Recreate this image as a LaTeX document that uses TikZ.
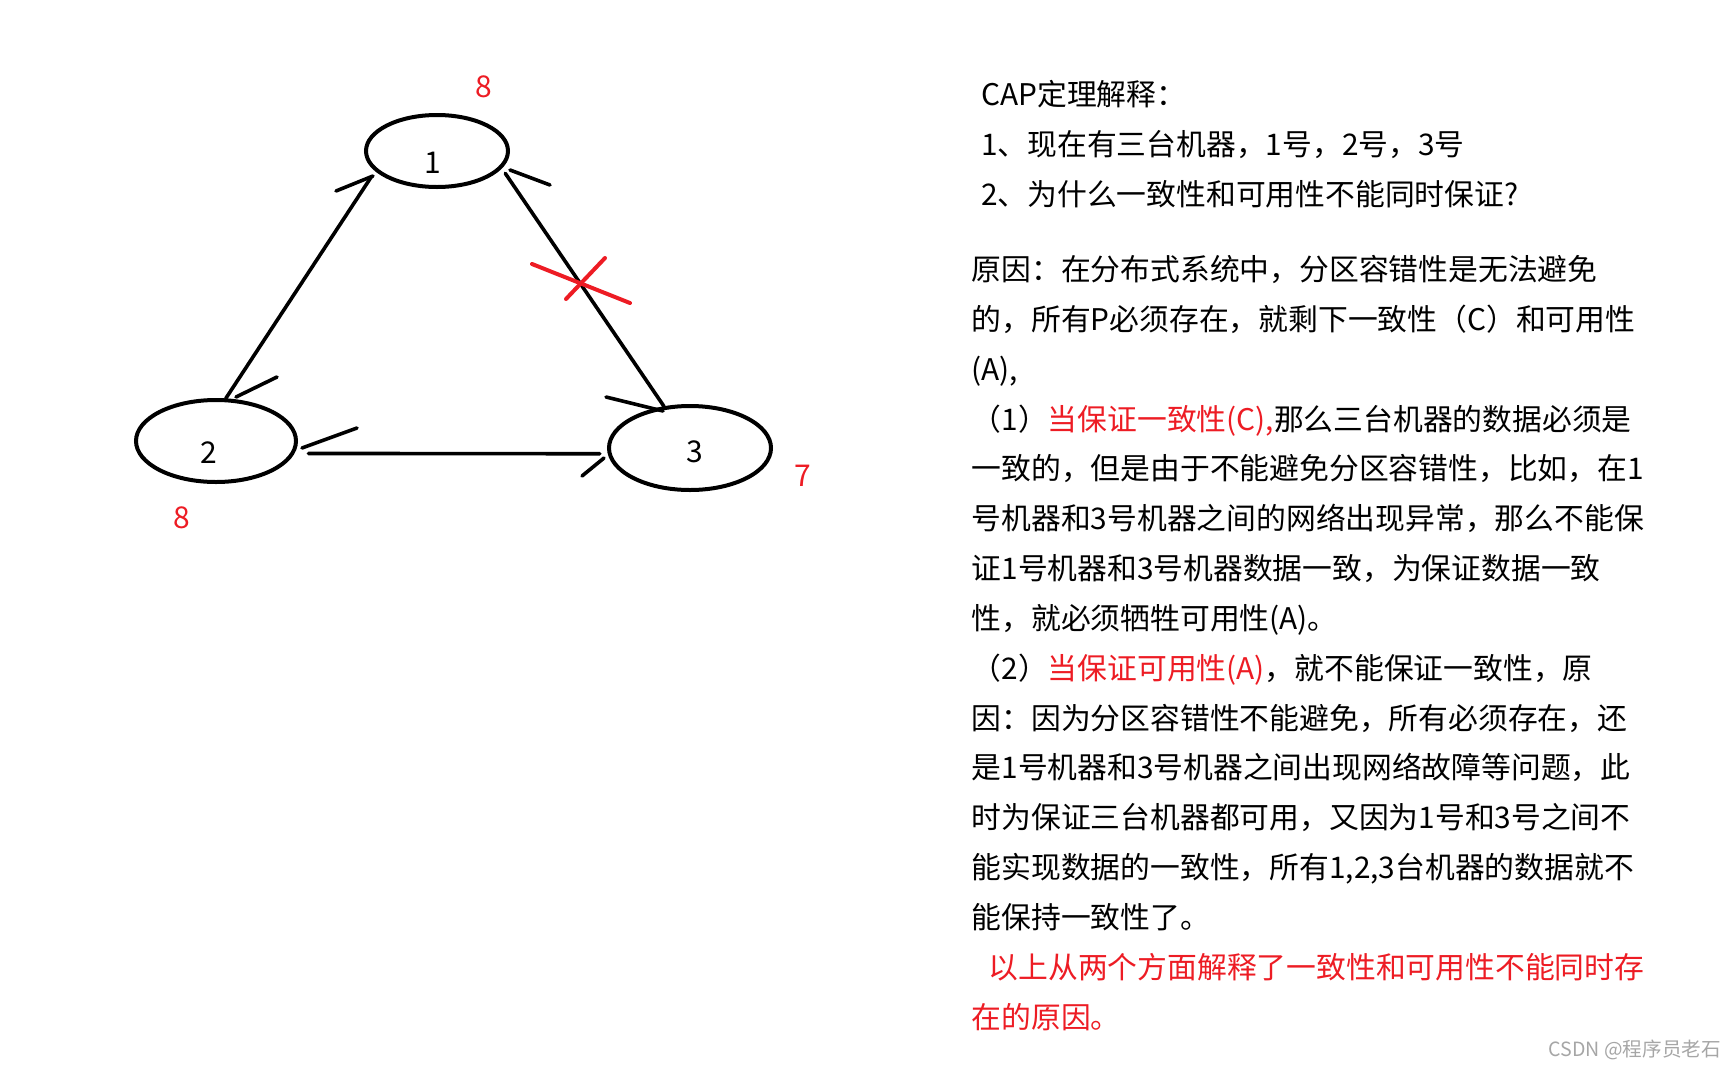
\documentclass[tikz,border=0pt]{standalone}
\usepackage{fontspec}
\setmainfont{Noto Sans CJK SC}
\usetikzlibrary{shapes.geometric}
\definecolor{MarkRed}{HTML}{ED1C24}
\definecolor{MarkGray}{HTML}{A6A6A6}
\tikzset{
  machine/.style={draw, ellipse, line width = 4pt, inner sep = 0pt},
  link/.style={line width = 3.6pt, line cap = round},
  tick/.style={line width = 3.6pt, line cap = round},
  cut/.style={line width = 4pt, draw = MarkRed, line cap = round},
  number/.style={font = \fontsize{30}{36}\selectfont, inner sep = 0pt},
  version/.style={number, text = MarkRed},
  note/.style={font = \fontsize{29.8}{49.85}\selectfont, align = left, anchor = north west, inner sep = 0pt}
}
\newcommand{\hot}[1]{\textcolor{MarkRed}{#1}}

\begin{document}
\begin{tikzpicture}[x = 1pt, y = -1pt]
  \useasboundingbox (0,0) rectangle (1729,1066);

  % machines
  \node[machine, minimum width = 142pt, minimum height = 72pt] (m1) at (437,151) {};
  \node[machine, minimum width = 160pt, minimum height = 82pt] (m2) at (216,441) {};
  \node[machine, minimum width = 162pt, minimum height = 84pt] (m3) at (690,448) {};
  \node[number] (n1) at (433,163) {1};
  \node[number] (n2) at (209,453) {2};
  \node[number] (n3) at (695,452) {3};

  % data versions
  \node[version] (v1) at (484,87) {8};
  \node[version] (v2) at (182,518) {8};
  \node[version] (v3) at (803,476) {7};

  % links
  \draw[link, shorten >= 7pt] (m2.77) -- (m1.198);
  \draw[link, shorten <= 6pt] (m1.345) -- (m3.122);
  \draw[link, shorten <= 14pt, shorten >= 8pt] (m2.351) -- (m3.184);

  % hand drawn arrow strokes
  \foreach \xa/\ya/\xb/\yb in {336/191/373/176, 236/397/277/377, 510/170/550/185,
                               606/397/663/411, 302/448/357/428, 582/476/604/458}
    \draw[tick] (\xa,\ya) -- (\xb,\yb);

  % broken link
  \draw[cut] (532,264) -- (630,303);
  \draw[cut] (605,258) -- (566,299);

  % explanation
  \node[note] (head) at (981,80) {CAP定理解释：\\
    1、现在有三台机器，1号，2号，3号\\
    2、为什么一致性和可用性不能同时保证?};
  \node[note] (reason) at (971.5,255) {原因：在分布式系统中，分区容错性是无法避免\\
    的，所有P必须存在，就剩下一致性（C）和可用性\\
    (A),\\
    （1）\hot{当保证一致性(C),}那么三台机器的数据必须是\\
    一致的，但是由于不能避免分区容错性，比如，在1\\
    号机器和3号机器之间的网络出现异常，那么不能保\\
    证1号机器和3号机器数据一致，为保证数据一致\\
    性，就必须牺牲可用性(A)。\\
    （2）\hot{当保证可用性(A)}，就不能保证一致性，原\\
    因：因为分区容错性不能避免，所有必须存在，还\\
    是1号机器和3号机器之间出现网络故障等问题，此\\
    时为保证三台机器都可用，又因为1号和3号之间不\\
    能实现数据的一致性，所有1,2,3台机器的数据就不\\
    能保持一致性了。\\
    \hspace{17pt}\hot{以上从两个方面解释了一致性和可用性不能同时存}\\
    \hot{在的原因。}};

  % watermark
  \node[font = \fontsize{19.6}{24}\selectfont, text = MarkGray, anchor = east, inner sep = 0pt] (mark) at (1721,1050) {CSDN @程序员老石};
\end{tikzpicture}
\end{document}
